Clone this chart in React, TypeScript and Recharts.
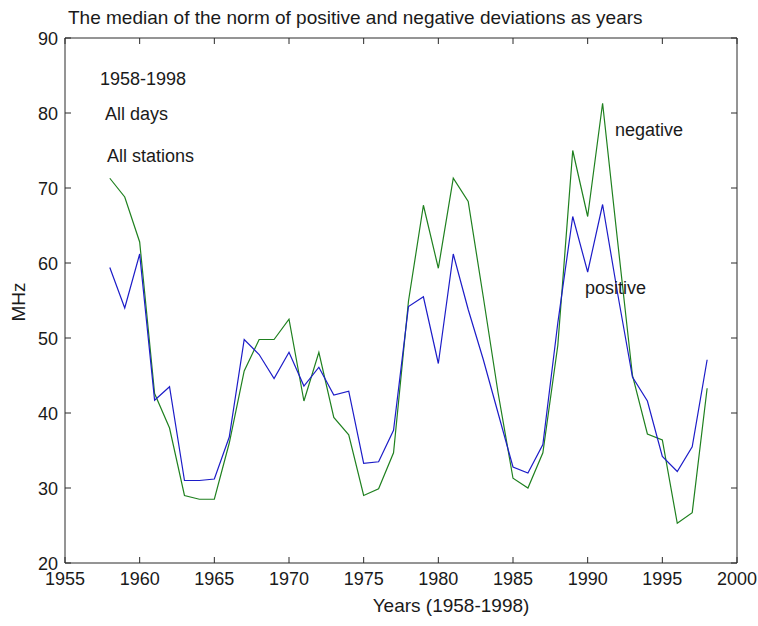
import React from 'react';
import { LineChart, Line, XAxis, YAxis } from 'recharts';

const years = [
  1958, 1959, 1960, 1961, 1962, 1963, 1964, 1965, 1966, 1967,
  1968, 1969, 1970, 1971, 1972, 1973, 1974, 1975, 1976, 1977,
  1978, 1979, 1980, 1981, 1982, 1983, 1984, 1985, 1986, 1987,
  1988, 1989, 1990, 1991, 1992, 1993, 1994, 1995, 1996, 1997, 1998,
];

const positive = [
  59.4, 54.0, 61.2, 41.7, 43.5, 31.0, 31.0, 31.2, 36.8, 49.8,
  47.8, 44.6, 48.1, 43.6, 46.1, 42.4, 42.9, 33.3, 33.5, 37.7,
  54.2, 55.5, 46.6, 61.2, 53.8, 47.2, 40.0, 32.8, 32.0, 35.8,
  52.0, 66.2, 58.8, 67.8, 56.0, 44.8, 41.6, 34.2, 32.2, 35.5, 47.1,
];

const negative = [
  71.3, 68.8, 62.8, 42.6, 38.0, 29.0, 28.5, 28.5, 36.0, 45.6,
  49.8, 49.8, 52.5, 41.6, 48.1, 39.4, 37.1, 29.0, 29.9, 34.7,
  54.9, 67.7, 59.3, 71.3, 68.2, 55.6, 42.7, 31.3, 30.0, 34.7,
  49.0, 75.0, 66.2, 81.3, 63.0, 45.0, 37.2, 36.4, 25.3, 26.7, 43.3,
];

const xTicks = [1955, 1960, 1965, 1970, 1975, 1980, 1985, 1990, 1995, 2000];
const yTicks = [20, 30, 40, 50, 60, 70, 80, 90];

const titleText = 'The median of the norm of positive and negative deviations as years';
const xLabel = 'Years (1958-1998)';
const yLabel = 'MHz';
const notes = ['1958-1998', 'All days', 'All stations'];
const seriesNames = ['negative', 'positive'];

const data = years.map((year, i) => ({ year, positive: positive[i], negative: negative[i] }));

const FONT = '"Liberation Sans", Arial, Helvetica, sans-serif';
const AXIS = '#2a2a2a';
const TXT = '#1a1a1a';
const TL = 6;
const BLUE = '#1c1cc8';
const GREEN = '#1f801f';

const BottomTick = (props: any) => {
  const { x, y, payload } = props;
  return (
    <g>
      <line x1={x} x2={x} y1={y} y2={y - TL} stroke={AXIS} strokeWidth={1} />
      <text x={x} y={y + 22} textAnchor="middle" fontSize={18} fontFamily={FONT} fill={TXT}>
        {payload.value}
      </text>
    </g>
  );
};

const TopTick = (props: any) => {
  const { x, y } = props;
  return <line x1={x} x2={x} y1={y} y2={y + TL} stroke={AXIS} strokeWidth={1} />;
};

const LeftTick = (props: any) => {
  const { x, y, payload } = props;
  return (
    <g>
      <line x1={x} x2={x + TL} y1={y} y2={y} stroke={AXIS} strokeWidth={1} />
      <text x={x - 7} y={y + 6.5} textAnchor="end" fontSize={18} fontFamily={FONT} fill={TXT}>
        {payload.value}
      </text>
    </g>
  );
};

const RightTick = (props: any) => {
  const { x, y } = props;
  return <line x1={x} x2={x - TL} y1={y} y2={y} stroke={AXIS} strokeWidth={1} />;
};

export default function App() {
  return (
    <div style={{ position: 'absolute', left: 0, top: 0, width: 758, height: 626, background: '#fff' }}>
      <LineChart
        width={758}
        height={626}
        data={data}
        margin={{ top: 8, right: 0, bottom: 0, left: 0 }}
      >
        <XAxis
          dataKey="year"
          type="number"
          domain={[1955, 2000]}
          ticks={xTicks}
          height={63}
          tickSize={0}
          tickMargin={0}
          tickLine={false}
          axisLine={{ stroke: AXIS, strokeWidth: 1 }}
          tick={<BottomTick />}
          interval={0}
          allowDataOverflow
        />
        <XAxis
          xAxisId="top"
          orientation="top"
          dataKey="year"
          type="number"
          domain={[1955, 2000]}
          ticks={xTicks}
          height={30}
          tickSize={0}
          tickMargin={0}
          tickLine={false}
          axisLine={{ stroke: AXIS, strokeWidth: 1 }}
          tick={<TopTick />}
          interval={0}
          allowDataOverflow
        />
        <YAxis
          type="number"
          domain={[20, 90]}
          ticks={yTicks}
          width={65}
          tickSize={0}
          tickMargin={0}
          tickLine={false}
          axisLine={{ stroke: AXIS, strokeWidth: 1 }}
          tick={<LeftTick />}
          interval={0}
          allowDataOverflow
        />
        <YAxis
          yAxisId="right"
          orientation="right"
          type="number"
          domain={[20, 90]}
          ticks={yTicks}
          width={21}
          tickSize={0}
          tickMargin={0}
          tickLine={false}
          axisLine={{ stroke: AXIS, strokeWidth: 1 }}
          tick={<RightTick />}
          interval={0}
          allowDataOverflow
        />
        <Line
          type="linear"
          dataKey="negative"
          stroke={GREEN}
          strokeWidth={1.2}
          dot={false}
          activeDot={false}
          isAnimationActive={false}
        />
        <Line
          type="linear"
          dataKey="positive"
          stroke={BLUE}
          strokeWidth={1.2}
          dot={false}
          activeDot={false}
          isAnimationActive={false}
        />
      </LineChart>
      <svg
        width={758}
        height={626}
        style={{ position: 'absolute', left: 0, top: 0, pointerEvents: 'none' }}
      >
        <g fontFamily={FONT} fill={TXT}>
          <text x={68} y={24} fontSize={19}>{titleText}</text>
          <text x={451} y={612} fontSize={19} textAnchor="middle">{xLabel}</text>
          <text x={25} y={302} fontSize={19} textAnchor="middle" transform="rotate(-90 25 302)">{yLabel}</text>
          <text x={100} y={85} fontSize={18}>{notes[0]}</text>
          <text x={105} y={120} fontSize={18}>{notes[1]}</text>
          <text x={107} y={162} fontSize={18}>{notes[2]}</text>
          <text x={615} y={136} fontSize={18}>{seriesNames[0]}</text>
          <text x={585} y={294} fontSize={18}>{seriesNames[1]}</text>
        </g>
      </svg>
    </div>
  );
}
